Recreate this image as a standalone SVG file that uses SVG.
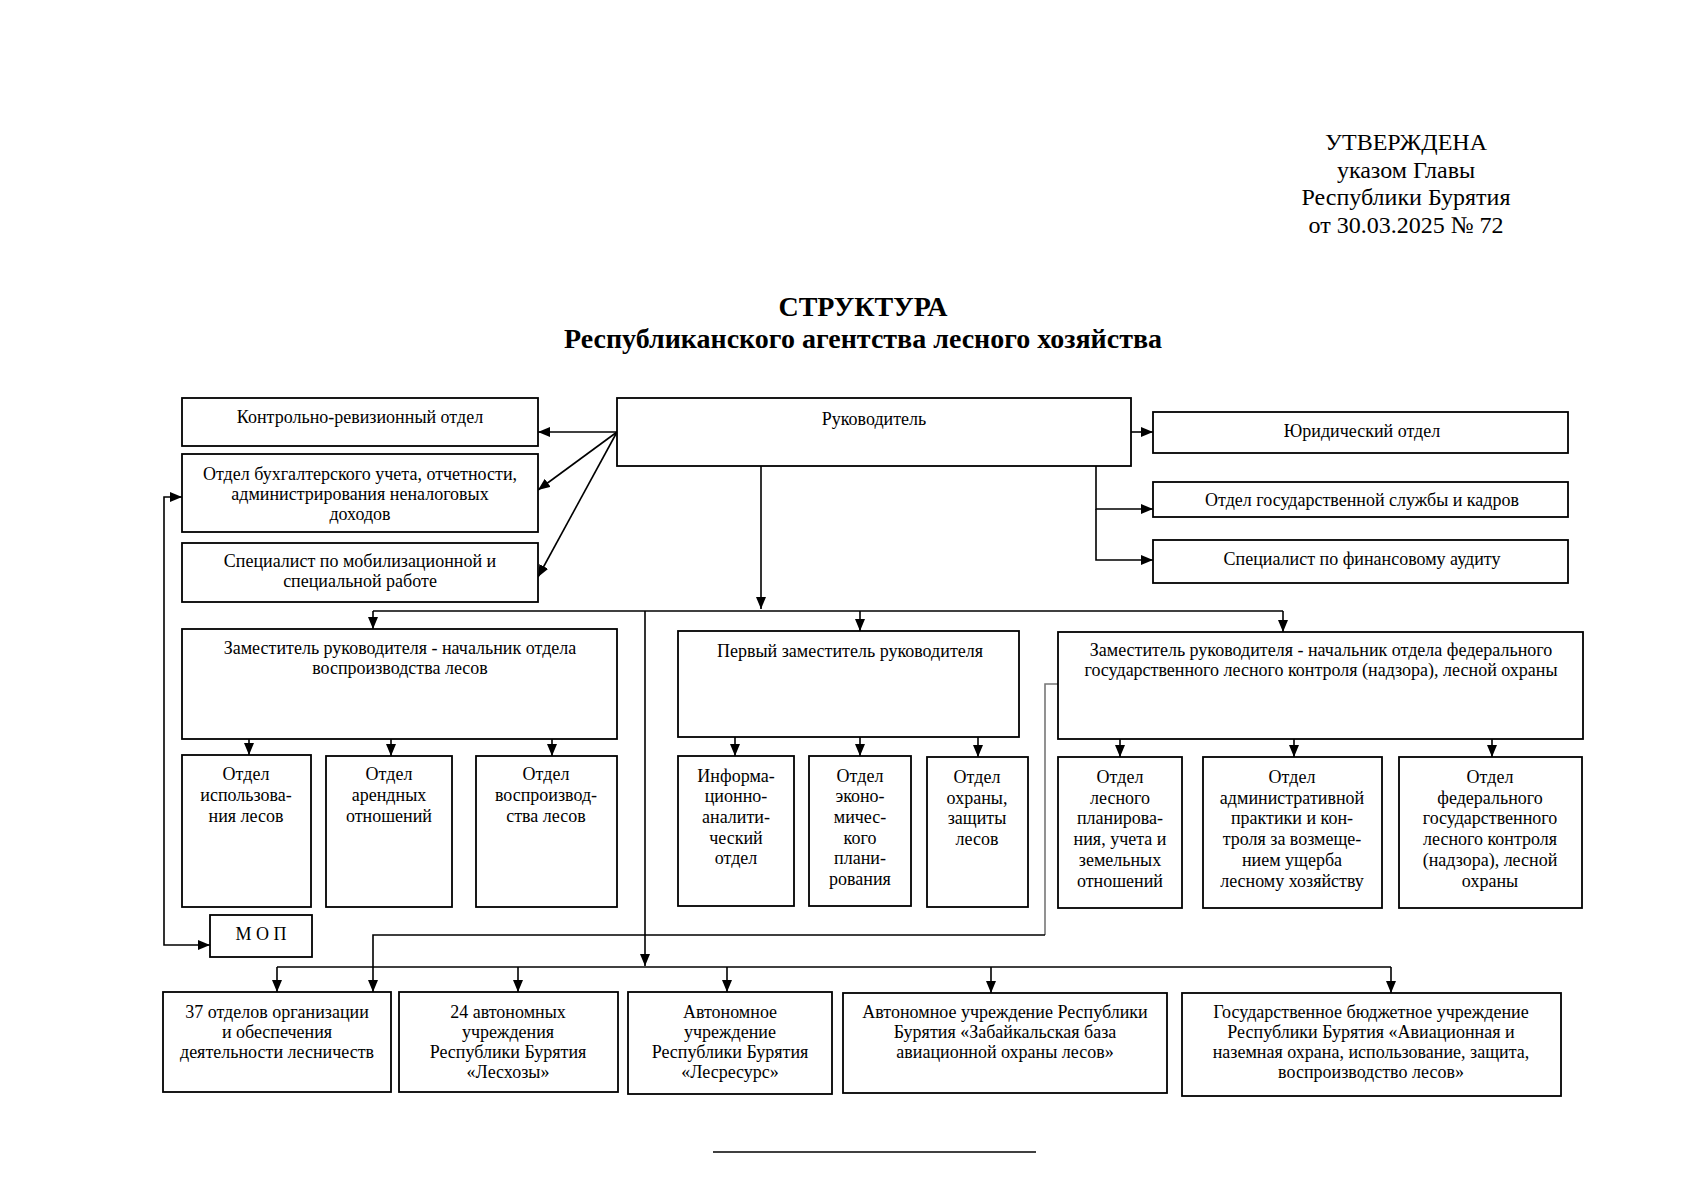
<svg xmlns="http://www.w3.org/2000/svg" width="1698" height="1200" viewBox="0 0 1698 1200">
<style>
.b{fill:#fff;stroke:#000;stroke-width:1.8}
.t{font-family:"Liberation Serif","Times New Roman",serif;font-size:18px;text-anchor:middle;fill:#000}
.h{font-family:"Liberation Serif","Times New Roman",serif;font-size:24px;text-anchor:middle;fill:#000}
.ti{font-family:"Liberation Serif","Times New Roman",serif;font-size:28px;font-weight:bold;text-anchor:middle;fill:#000}
.c{fill:none;stroke:#000;stroke-width:1.6}
.g{fill:none;stroke:#777;stroke-width:1.6}
.a{marker-end:url(#ah)}
</style>
<defs>
<marker id="ah" viewBox="0 0 12 10" refX="12" refY="5" markerWidth="12" markerHeight="10" markerUnits="userSpaceOnUse" orient="auto">
<path d="M0,0 L12,5 L0,10 z" fill="#000"/>
</marker>
</defs>
<rect width="1698" height="1200" fill="#fff"/>
<g id="header">
<text class="h" x="1406" y="150">УТВЕРЖДЕНА</text>
<text class="h" x="1406" y="178">указом Главы</text>
<text class="h" x="1406" y="205">Республики Бурятия</text>
<text class="h" x="1406" y="233">от 30.03.2025 № 72</text>
<text class="ti" x="863" y="316">СТРУКТУРА</text>
<text class="ti" x="863" y="348">Республиканского агентства лесного хозяйства</text>
</g>
<g id="connectors">
<line class="c a" x1="617" y1="432" x2="538" y2="432"/>
<line class="c a" x1="617" y1="432" x2="538" y2="490"/>
<line class="c a" x1="617" y1="432" x2="538" y2="577"/>
<line class="c a" x1="1131" y1="432" x2="1153" y2="432"/>
<polyline class="c a" points="1096,466 1096,509 1153,509"/>
<polyline class="c a" points="1096,509 1096,560 1153,560"/>
<line class="c a" x1="761" y1="466" x2="761" y2="609"/>
<line class="c" x1="373" y1="611" x2="1283" y2="611"/>
<line class="c a" x1="373" y1="611" x2="373" y2="629"/>
<line class="c a" x1="860" y1="611" x2="860" y2="631"/>
<line class="c a" x1="1283" y1="611" x2="1283" y2="632"/>
<line class="c a" x1="249" y1="739" x2="249" y2="755"/>
<line class="c a" x1="391" y1="739" x2="391" y2="756"/>
<line class="c a" x1="552" y1="739" x2="552" y2="756"/>
<line class="c a" x1="735" y1="737" x2="735" y2="756"/>
<line class="c a" x1="860" y1="737" x2="860" y2="756"/>
<line class="c a" x1="978" y1="737" x2="978" y2="757"/>
<line class="c a" x1="1120" y1="739" x2="1120" y2="757"/>
<line class="c a" x1="1294" y1="739" x2="1294" y2="757"/>
<line class="c a" x1="1492" y1="739" x2="1492" y2="757"/>
<polyline class="c a" points="164,720 164,497 182,497"/>
<polyline class="c a" points="164,720 164,945 210,945"/>
<line class="c a" x1="645" y1="611" x2="645" y2="966"/>
<polyline class="g" points="1058,684 1045,684 1045,935"/>
<polyline class="c a" points="1045,935 373,935 373,992"/>
<line class="c" x1="277" y1="967" x2="1391" y2="967"/>
<line class="c a" x1="277" y1="967" x2="277" y2="992"/>
<line class="c a" x1="518" y1="967" x2="518" y2="992"/>
<line class="c a" x1="727" y1="967" x2="727" y2="992"/>
<line class="c a" x1="991" y1="967" x2="991" y2="993"/>
<line class="c a" x1="1391" y1="967" x2="1391" y2="993"/>
</g>
<g id="n-kro"><rect class="b" x="182" y="398" width="356" height="48"/><text class="t" x="360" y="423">Контрольно-ревизионный отдел</text></g>
<g id="n-buh"><rect class="b" x="182" y="454" width="356" height="78"/><text class="t" x="360" y="480">Отдел бухгалтерского учета, отчетности,</text><text class="t" x="360" y="500">администрирования неналоговых</text><text class="t" x="360" y="520">доходов</text></g>
<g id="n-mob"><rect class="b" x="182" y="543" width="356" height="59"/><text class="t" x="360" y="567">Специалист по мобилизационной и</text><text class="t" x="360" y="587">специальной работе</text></g>
<g id="n-ruk"><rect class="b" x="617" y="398" width="514" height="68"/><text class="t" x="874" y="425">Руководитель</text></g>
<g id="n-yur"><rect class="b" x="1153" y="412" width="415" height="41"/><text class="t" x="1362" y="437">Юридический отдел</text></g>
<g id="n-kadr"><rect class="b" x="1153" y="482" width="415" height="35"/><text class="t" x="1362" y="506">Отдел государственной службы и кадров</text></g>
<g id="n-audit"><rect class="b" x="1153" y="540" width="415" height="43"/><text class="t" x="1362" y="565">Специалист по финансовому аудиту</text></g>
<g id="n-zam1"><rect class="b" x="182" y="629" width="435" height="110"/><text class="t" x="400" y="654">Заместитель руководителя - начальник отдела</text><text class="t" x="400" y="674">воспроизводства лесов</text></g>
<g id="n-first"><rect class="b" x="678" y="631" width="341" height="106"/><text class="t" x="850" y="657">Первый заместитель руководителя</text></g>
<g id="n-zam2"><rect class="b" x="1058" y="632" width="525" height="107"/><text class="t" x="1321" y="656">Заместитель руководителя - начальник отдела федерального</text><text class="t" x="1321" y="676">государственного лесного контроля (надзора), лесной охраны</text></g>
<g id="n-isp"><rect class="b" x="182" y="755" width="129" height="152"/><text class="t" x="246" y="780">Отдел</text><text class="t" x="246" y="801">использова-</text><text class="t" x="246" y="822">ния лесов</text></g>
<g id="n-arend"><rect class="b" x="326" y="756" width="126" height="151"/><text class="t" x="389" y="780">Отдел</text><text class="t" x="389" y="801">арендных</text><text class="t" x="389" y="822">отношений</text></g>
<g id="n-vospr"><rect class="b" x="476" y="756" width="141" height="151"/><text class="t" x="546" y="780">Отдел</text><text class="t" x="546" y="801">воспроизвод-</text><text class="t" x="546" y="822">ства лесов</text></g>
<g id="n-info"><rect class="b" x="678" y="756" width="116" height="150"/><text class="t" x="736" y="782">Информа-</text><text class="t" x="736" y="802">ционно-</text><text class="t" x="736" y="823">аналити-</text><text class="t" x="736" y="844">ческий</text><text class="t" x="736" y="864">отдел</text></g>
<g id="n-econ"><rect class="b" x="809" y="756" width="102" height="150"/><text class="t" x="860" y="782">Отдел</text><text class="t" x="860" y="802">эконо-</text><text class="t" x="860" y="823">мичес-</text><text class="t" x="860" y="844">кого</text><text class="t" x="860" y="864">плани-</text><text class="t" x="860" y="885">рования</text></g>
<g id="n-ohr"><rect class="b" x="927" y="757" width="101" height="150"/><text class="t" x="977" y="783">Отдел</text><text class="t" x="977" y="804">охраны,</text><text class="t" x="977" y="824">защиты</text><text class="t" x="977" y="845">лесов</text></g>
<g id="n-plan"><rect class="b" x="1058" y="757" width="124" height="151"/><text class="t" x="1120" y="783">Отдел</text><text class="t" x="1120" y="804">лесного</text><text class="t" x="1120" y="824">планирова-</text><text class="t" x="1120" y="845">ния, учета и</text><text class="t" x="1120" y="866">земельных</text><text class="t" x="1120" y="887">отношений</text></g>
<g id="n-adm"><rect class="b" x="1203" y="757" width="179" height="151"/><text class="t" x="1292" y="783">Отдел</text><text class="t" x="1292" y="804">административной</text><text class="t" x="1292" y="824">практики и кон-</text><text class="t" x="1292" y="845">троля за возмеще-</text><text class="t" x="1292" y="866">нием ущерба</text><text class="t" x="1292" y="887">лесному хозяйству</text></g>
<g id="n-fed"><rect class="b" x="1399" y="757" width="183" height="151"/><text class="t" x="1490" y="783">Отдел</text><text class="t" x="1490" y="804">федерального</text><text class="t" x="1490" y="824">государственного</text><text class="t" x="1490" y="845">лесного контроля</text><text class="t" x="1490" y="866">(надзора), лесной</text><text class="t" x="1490" y="887">охраны</text></g>
<g id="n-mop"><rect class="b" x="210" y="915" width="102" height="42"/><text class="t" x="261" y="940">М О П</text></g>
<g id="n-37"><rect class="b" x="163" y="992" width="228" height="100"/><text class="t" x="277" y="1018">37 отделов организации</text><text class="t" x="277" y="1038">и обеспечения</text><text class="t" x="277" y="1058">деятельности лесничеств</text></g>
<g id="n-24"><rect class="b" x="399" y="992" width="219" height="100"/><text class="t" x="508" y="1018">24 автономных</text><text class="t" x="508" y="1038">учреждения</text><text class="t" x="508" y="1058">Республики Бурятия</text><text class="t" x="508" y="1078">«Лесхозы»</text></g>
<g id="n-lesres"><rect class="b" x="628" y="992" width="204" height="102"/><text class="t" x="730" y="1018">Автономное</text><text class="t" x="730" y="1038">учреждение</text><text class="t" x="730" y="1058">Республики Бурятия</text><text class="t" x="730" y="1078">«Лесресурс»</text></g>
<g id="n-zab"><rect class="b" x="843" y="993" width="324" height="100"/><text class="t" x="1005" y="1018">Автономное учреждение Республики</text><text class="t" x="1005" y="1038">Бурятия «Забайкальская база</text><text class="t" x="1005" y="1058">авиационной охраны лесов»</text></g>
<g id="n-gbu"><rect class="b" x="1182" y="993" width="379" height="103"/><text class="t" x="1371" y="1018">Государственное бюджетное учреждение</text><text class="t" x="1371" y="1038">Республики Бурятия «Авиационная и</text><text class="t" x="1371" y="1058">наземная охрана, использование, защита,</text><text class="t" x="1371" y="1078">воспроизводство лесов»</text></g>
<line x1="713" y1="1152" x2="1036" y2="1152" stroke="#000" stroke-width="1.6"/>
</svg>
